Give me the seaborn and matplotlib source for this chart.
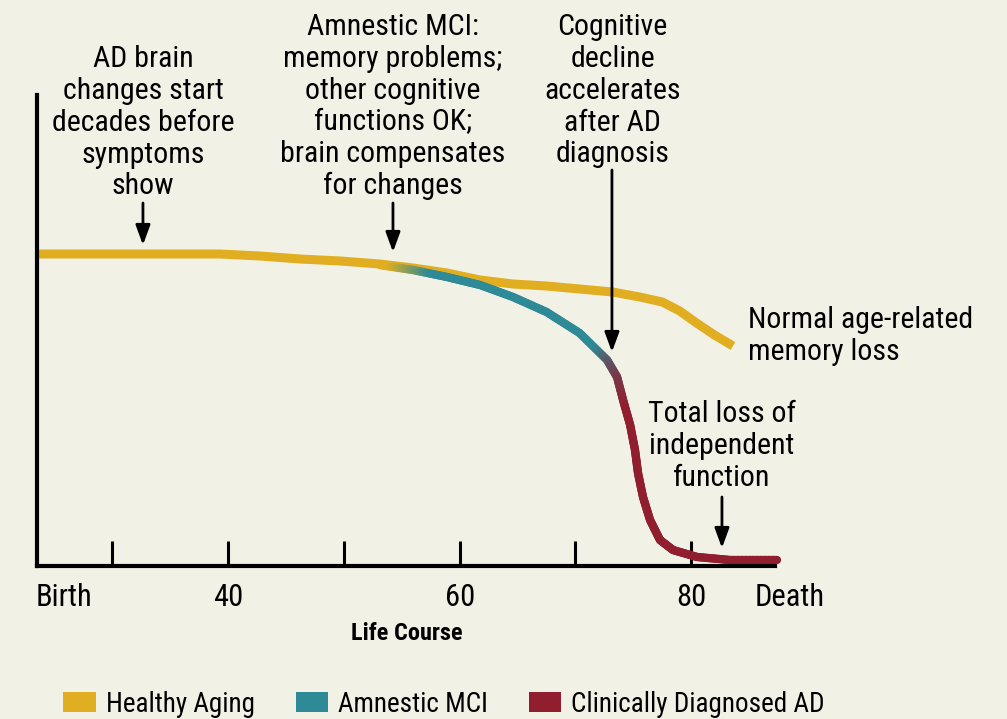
import numpy as np
import matplotlib
matplotlib.use("Agg")
import matplotlib.pyplot as plt
import seaborn as sns
from matplotlib.collections import LineCollection
from matplotlib.colors import to_rgb
from matplotlib.patches import Patch

# couleurs
bg = "#f2f1e6"
gold = "#e1ae22"
teal = "#2d8a96"
red = "#911e2f"

# Healthy aging curve (age, cognitive function)
healthy_age = [23.5, 28.9, 34.1, 39.3, 42.75, 46.2, 49.7, 53.1, 55.97, 58.9, 61.76,
               64.6, 67.5, 70.35, 73.2, 75.55, 77.5, 79.0, 80.45, 82.0, 83.6]
healthy_val = [312, 312, 312, 312, 310, 307, 305, 302, 298, 293, 286,
               282, 280, 277, 274, 269, 264, 255, 243, 231, 220]

# MCI -> AD decline curve
decline_age = [53.1, 55.97, 58.9, 61.76, 64.6, 67.5, 70.35, 72.73, 73.59, 74.11, 74.72,
               75.14, 75.4, 75.83, 76.44, 77.3, 78.42, 80.5, 83.34, 87.4]
decline_val = [301, 296, 289, 281, 269, 254, 233, 206, 189, 166, 141,
               116, 93, 69, 46, 26, 16, 9, 6, 6]

# color stops along the decline (age, color)
stop_age = [53.98, 57.6, 71.7, 74.3]
stop_col = [gold, teal, teal, red]

tick_ages = [30, 40, 50, 60, 70, 80]
tick_labels = ["", "40", "", "60", "", "80"]

legend_labels = ["Healthy Aging", "Amnestic MCI", "Clinically Diagnosed AD"]
legend_colors = [gold, teal, red]

sns.set_theme(style="white", rc={"axes.facecolor": bg, "figure.facecolor": bg,
                                 "text.color": "black", "xtick.color": "black"})
plt.rcParams["font.family"] = ["Roboto Condensed", "Liberation Sans", "DejaVu Sans"]

fig = plt.figure(figsize=(10.07, 7.19), dpi=100)
ax = fig.add_axes([37 / 1007, 153 / 719, 738 / 1007, 471 / 719])
ax.set_xlim(23.5, 87.23)
ax.set_ylim(0, 471)

sns.lineplot(x=healthy_age, y=healthy_val, color=gold, lw=6.5, ax=ax, sort=False,
             solid_capstyle="butt")

# gradient line for decline
xs, ys = [], []
for i in range(len(decline_age) - 1):
    t = np.linspace(0, 1, 12, endpoint=False)
    xs.extend(decline_age[i] + t * (decline_age[i + 1] - decline_age[i]))
    ys.extend(decline_val[i] + t * (decline_val[i + 1] - decline_val[i]))
xs.append(decline_age[-1])
ys.append(decline_val[-1])
xs, ys = np.array(xs), np.array(ys)
pts = np.column_stack([xs, ys]).reshape(-1, 1, 2)
segs = np.concatenate([pts[:-1], pts[1:]], axis=1)
mid = (xs[:-1] + xs[1:]) / 2
rgb = np.array([to_rgb(c) for c in stop_col])
cols = np.column_stack([np.interp(mid, stop_age, rgb[:, k]) for k in range(3)])
lc = LineCollection(segs, colors=cols, linewidths=6, capstyle="round", joinstyle="round")
lc.set_clip_on(False)
ax.add_collection(lc)

# axes
sns.despine(ax=ax)
for s in ["left", "bottom"]:
    ax.spines[s].set_linewidth(3)
    ax.spines[s].set_color("black")
ax.set_yticks([])
ax.set_xticks(tick_ages)
ax.set_xticklabels(tick_labels, fontsize=22)
ax.tick_params(axis="x", direction="in", length=18, width=2.2, color="black", pad=12,
               bottom=True)
ax.text(23.35, -31, "Birth", fontsize=22, ha="left", va="center")
ax.text(88.5, -31, "Death", fontsize=22, ha="center", va="center", clip_on=False)
fig.text(407 / 1007, 1 - 634 / 719, "Life Course", fontsize=17.5, fontweight="bold",
         ha="center", va="center")

# annotations
fs = 21.5
tkw = dict(fontsize=fs, ha="center", va="top", linespacing=1.175, clip_on=False)
ax.text(32.65, 521, "AD brain\nchanges start\ndecades before\nsymptoms\nshow", **tkw)
ax.text(54.24, 553, "Amnestic MCI:\nmemory problems;\nother cognitive\nfunctions OK;\n"
        "brain compensates\nfor changes", **tkw)
ax.text(73.2, 553, "Cognitive\ndecline\naccelerates\nafter AD\ndiagnosis", **tkw)
ax.text(82.65, 166, "Total loss of\nindependent\nfunction", **tkw)
ax.text(84.9, 260, "Normal age-related\nmemory loss", fontsize=fs, ha="left", va="top",
        linespacing=1.175, clip_on=False)

akw = dict(arrowstyle="-|>,head_length=0.6,head_width=0.22", lw=2, color="black",
           mutation_scale=20, shrinkA=0, shrinkB=0)
for x, y0, y1 in [(32.65, 363, 321), (54.24, 363, 314), (73.15, 396, 214), (82.65, 69, 18)]:
    ax.annotate("", xy=(x, y1), xytext=(x, y0), arrowprops=akw, annotation_clip=False)

handles = [Patch(facecolor=c, edgecolor="none", label=l) for c, l in zip(legend_colors, legend_labels)]
fig.legend(handles=handles, ncol=3, frameon=False, loc="lower left",
           bbox_to_anchor=(39 / 1007, -0.032), fontsize=19.5, handlelength=1.2,
           handleheight=0.75, columnspacing=1.5, handletextpad=0.37)

fig.savefig("out.png", dpi=100, facecolor=bg)
